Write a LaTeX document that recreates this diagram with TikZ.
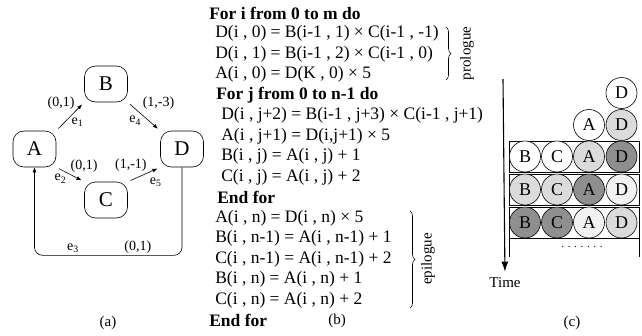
\documentclass[tikz,border=0pt]{standalone}
\usepackage{fontspec}
\setmainfont{Liberation Serif}
\usetikzlibrary{arrows.meta,decorations.pathreplacing}
\definecolor{lightg}{gray}{0.86}
\definecolor{darkg}{gray}{0.56}
\definecolor{paleg}{gray}{0.95}
\tikzstyle{task} = [draw, rectangle, rounded corners=11pt, minimum width=43pt,
    minimum height=36pt, inner sep=0pt, font=\fontsize{21}{21}\selectfont]
\tikzstyle{lbl} = [inner sep=1pt, font=\fontsize{14}{14}\selectfont]
\tikzstyle{dep} = [-{Latex[length=5pt,width=4pt]}, shorten <=3pt, shorten >=3pt]
\tikzstyle{code} = [anchor=west, inner sep=0pt, font=\fontsize{17.5}{20}\selectfont]
\tikzstyle{kw} = [code, font=\fontsize{17.5}{20}\selectfont\bfseries]
\tikzstyle{sidenote} = [rotate=90, inner sep=0pt, font=\fontsize{15}{15}\selectfont]
\tikzstyle{subcap} = [inner sep=0pt, font=\fontsize{15}{15}\selectfont]
\tikzstyle{stage} = [draw, circle, minimum size=31pt, inner sep=0pt,
    font=\fontsize{18}{18}\selectfont]
\tikzstyle{brc} = [decorate, decoration={brace, amplitude=5pt}]

\begin{document}
\begin{tikzpicture}[x=1pt, y=-1pt, line width=0.6pt]
    \useasboundingbox (0,0) rectangle (642,335);

    % (a) the graph
    \node[task] (A) at (34.5,149) {A};
    \node[task] (B) at (106,84) {B};
    \node[task] (C) at (106,200) {C};
    \node[task] (D) at (182,149) {D};
    \draw[dep] (A.north east) -- node[lbl, pos=.7, above left=0pt] {(0,1)}
        node[lbl, pos=.5, below right=0pt] {e\textsubscript{1}} (B.south west);
    \draw[dep] (A.south east) -- node[lbl, pos=.47, above right=0pt] {(0,1)}
        node[lbl, pos=.4, below left=0pt] {e\textsubscript{2}} (C.north west);
    \draw[dep] (B.south east) -- node[lbl, pos=.3, above right=0pt, xshift=4pt] {(1,-3)}
        node[lbl, pos=.45, below left=0pt] {e\textsubscript{4}} (D.north west);
    \draw[dep] (C.north east) -- node[lbl, pos=.62, above left=0pt] {(1,-1)}
        node[lbl, pos=.55, below right=3pt] {e\textsubscript{5}} (D.south west);
    \draw[dep, shorten <=0pt, shorten >=0pt, rounded corners=8pt] (D.south) -- ++(0,88)
        -| node[lbl, pos=.15, above=1pt] {(0,1)}
           node[lbl, pos=.37, above=1pt] {e\textsubscript{3}} (A.south);
    \node[subcap] (capa) at (108,323) {(a)};

    % (b) the loop
    \node[kw] (fori) at (209,13) {For i from 0 to m do};
    \node[code] (p1) at (215,33.5) {D(i , 0) = B(i-1 , 1) × C(i-1 , -1)};
    \node[code] (p2) at (215,54) {D(i , 1) = B(i-1 , 2) × C(i-1 , 0)};
    \node[code] (p3) at (215,74.5) {A(i , 0) = D(K , 0) × 5};
    \node[kw] (forj) at (216,95) {For j from 0 to n-1 do};
    \node[code] (k1) at (221,115.5) {D(i , j+2) = B(i-1 , j+3) × C(i-1 , j+1)};
    \node[code] (k2) at (221,136) {A(i , j+1) = D(i,j+1) × 5};
    \node[code] (k3) at (221,156.5) {B(i , j) = A(i , j) + 1};
    \node[code] (k4) at (221,177) {C(i , j) = A(i , j) + 2};
    \node[kw] (endj) at (217,197.5) {End for};
    \node[code] (e1) at (215,218) {A(i , n) = D(i , n) × 5};
    \node[code] (e2) at (215,238.5) {B(i , n-1) = A(i , n-1) + 1};
    \node[code] (e3) at (215,259) {C(i , n-1) = A(i , n-1) + 2};
    \node[code] (e4) at (215,279.5) {B(i , n) = A(i , n) + 1};
    \node[code] (e5) at (215,300) {C(i , n) = A(i , n) + 2};
    \node[kw] (endi) at (209,320.5) {End for};
    \draw[brc] (446,27) -- (446,80);
    \node[sidenote] (pro) at (467,53.5) {prologue};
    \draw[brc] (410,211) -- (410,308);
    \node[sidenote] (epi) at (428,259) {epilogue};
    \node[subcap] (capb) at (337,321) {(b)};

    % (c) the schedule
    \coordinate (ttop) at (503,79);
    \node[subcap] (time) at (505,283) {Time};
    \draw[-{Latex[length=10pt,width=7pt]}, line width=1.1pt, shorten >=6pt] (ttop) -- (time.north);
    \draw (509,141) rectangle (639,172);
    \draw (509,174) rectangle (639,205);
    \draw (509,207) rectangle (639,238);
    \draw (509,238) -- (509,257) (639,238) -- (639,257);
    \node[inner sep=0pt, font=\fontsize{11}{11}\selectfont] (dots) at (582,247) {. . . . . . .};
    \node[stage] (dtop) at (621.5,93) {D};
    \node[stage] (a0) at (589,125) {A};
    \node[stage, fill=lightg] (d0) at (621.5,125) {D};
    \foreach \r/\y/\fb/\fc/\fa/\fd in {1/156.5/white/white/lightg/darkg,
        2/189.5/lightg/lightg/darkg/paleg, 3/222.5/darkg/darkg/paleg/lightg}{
        \node[stage, fill=\fb] (b\r) at (525,\y) {B};
        \node[stage, fill=\fc] (c\r) at (557,\y) {C};
        \node[stage, fill=\fa] (a\r) at (589,\y) {A};
        \node[stage, fill=\fd] (d\r) at (621.5,\y) {D};
    }
    \node[subcap] (capc) at (572,323) {(c)};
\end{tikzpicture}
\end{document}
